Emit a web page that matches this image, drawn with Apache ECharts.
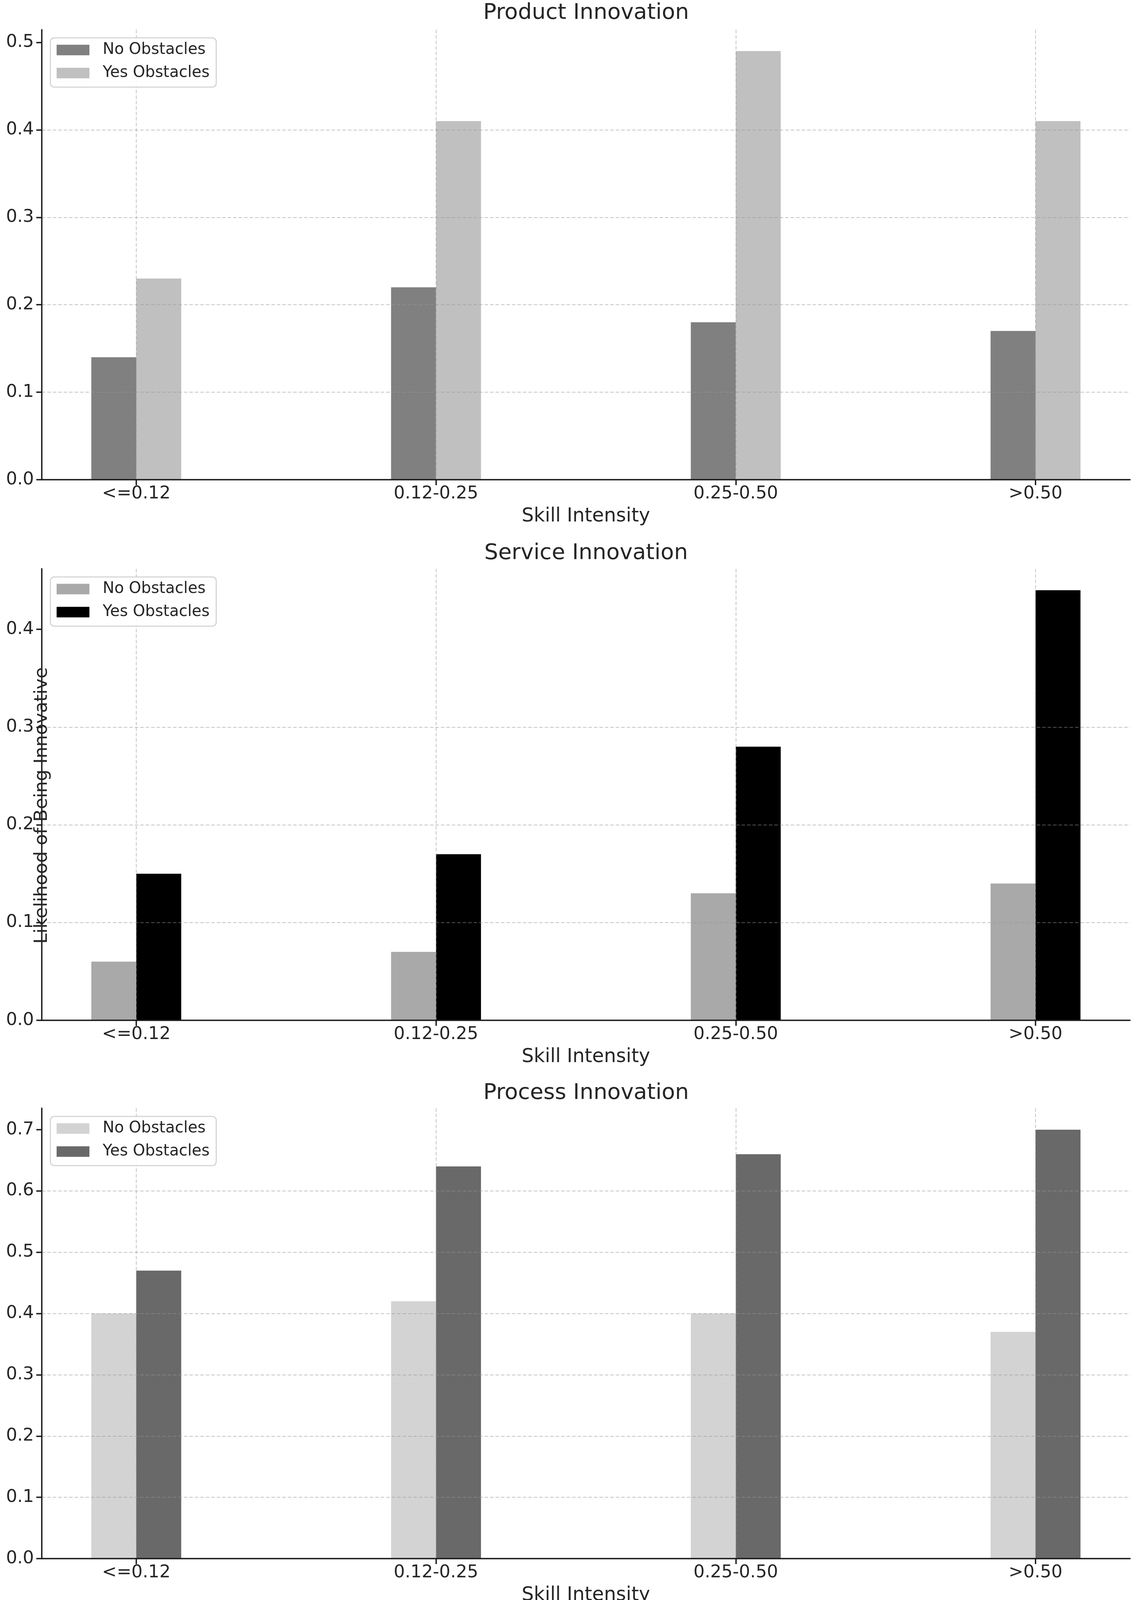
<!DOCTYPE html>
<html><head><meta charset="utf-8">
<script src="https://cdn.jsdelivr.net/npm/echarts@6/dist/echarts.min.js"></script>
<style>html,body{margin:0;padding:0;background:#fff}#c{width:2917px;height:4124px}</style>
</head><body><div id="c"></div>
<script>
// ---- data ----
const categories = ['<=0.12', '0.12-0.25', '0.25-0.50', '>0.50'];
const seriesNames = ['No Obstacles', 'Yes Obstacles'];
const panelTitles = ['Product Innovation', 'Service Innovation', 'Process Innovation'];
const productNo = [0.14, 0.22, 0.18, 0.17];
const productYes = [0.23, 0.41, 0.49, 0.41];
const serviceNo = [0.06, 0.07, 0.13, 0.14];
const serviceYes = [0.15, 0.17, 0.28, 0.44];
const processNo = [0.40, 0.42, 0.40, 0.37];
const processYes = [0.47, 0.64, 0.66, 0.70];
const productTicks = [0.0, 0.1, 0.2, 0.3, 0.4, 0.5];
const serviceTicks = [0.0, 0.1, 0.2, 0.3, 0.4];
const processTicks = [0.0, 0.1, 0.2, 0.3, 0.4, 0.5, 0.6, 0.7];
const xAxisLabel = 'Skill Intensity';
const yAxisLabel = 'Likelihood of Being Innovative';

// ---- styles / layout ----
const FONT = 'DejaVu Sans';
const TXT = '#262626';
const panelColors = [['#808080', '#c0c0c0'], ['#a9a9a9', '#000000'], ['#d3d3d3', '#696969']];
const panelData = [[productNo, productYes], [serviceNo, serviceYes], [processNo, processYes]];
const panelTicks = [productTicks, serviceTicks, processTicks];
const H = 4124;
const tops = [76, 1456, 2837];
const bottoms = [1228, 2612, 3990];
const titleY = [33, 1416, 2798];
const outerLeft = 107, outerRight = 23;
const innerLeft = 349, innerRight = 265;
const plotCenter = 1501;
const gridColor = 'rgba(150,150,150,0.55)';

const option = {
  backgroundColor: '#fff',
  animation: false,
  textStyle: { fontFamily: FONT },
  title: [], legend: [], grid: [], xAxis: [], yAxis: [], series: [],
  graphic: [{
    type: 'text', x: 108, y: 2062, rotation: Math.PI / 2, z: 50,
    style: { text: yAxisLabel, font: '47px "DejaVu Sans"', fill: TXT, align: 'center', verticalAlign: 'middle' }
  }]
};

for (let p = 0; p < 3; p++) {
  const ticks = panelTicks[p];
  const ymax = Math.max(...panelData[p][0], ...panelData[p][1]) * 1.05;
  option.title.push({
    text: panelTitles[p], left: plotCenter, top: titleY[p], textAlign: 'center', textVerticalAlign: 'middle', padding: 0,
    textStyle: { fontFamily: FONT, fontSize: 56, fontWeight: 'normal', color: TXT, lineHeight: 56 }
  });
  // outer grid: spines + y axis
  option.grid.push({ left: outerLeft, right: outerRight, top: tops[p], bottom: H - bottoms[p], containLabel: false });
  // inner grid: categories + bars
  option.grid.push({ left: innerLeft, right: innerRight, top: tops[p], bottom: H - bottoms[p], containLabel: false });
  const go = 2 * p, gi = 2 * p + 1;
  option.xAxis.push({
    type: 'value', gridIndex: go, min: 0, max: 1, z: 4,
    axisLine: { show: true, onZero: false, lineStyle: { color: '#1a1a1a', width: 3.5 } },
    axisTick: { show: false }, axisLabel: { show: false }, splitLine: { show: false }
  });
  option.xAxis.push({
    type: 'category', gridIndex: gi, data: categories, boundaryGap: false, z: 3,
    axisLine: { show: false },
    axisTick: { show: true, length: 14, lineStyle: { color: '#1a1a1a', width: 3.5 } },
    axisLabel: { show: true, color: TXT, fontFamily: FONT, fontSize: 45, lineHeight: 45, margin: 36, verticalAlign: 'middle', interval: 0 },
    splitLine: { show: true, lineStyle: { color: gridColor, width: 2, type: [9, 5] } },
    name: xAxisLabel, nameLocation: 'middle', nameGap: 94,
    nameTextStyle: { color: TXT, fontFamily: FONT, fontSize: 49, lineHeight: 49, verticalAlign: 'middle' }
  });
  option.yAxis.push({
    type: 'value', gridIndex: go, min: 0, max: ymax, interval: 0.1, z: 3,
    axisLine: { show: true, onZero: false, lineStyle: { color: '#1a1a1a', width: 3.5 } },
    axisTick: { show: true, length: 14, lineStyle: { color: '#1a1a1a', width: 3.5 }, customValues: ticks },
    axisLabel: { show: true, color: TXT, fontFamily: FONT, fontSize: 45, margin: 20, customValues: ticks,
      formatter: v => Number(v).toFixed(1) },
    splitLine: { show: true, showMaxLine: false, lineStyle: { color: gridColor, width: 2, type: [9, 5] } }
  });
  option.yAxis.push({
    type: 'value', gridIndex: gi, min: 0, max: ymax, interval: 0.1,
    axisLine: { show: false }, axisTick: { show: false }, axisLabel: { show: false }, splitLine: { show: false }
  });
  for (let s = 0; s < 2; s++) {
    option.series.push({
      type: 'bar', name: seriesNames[s], xAxisIndex: 2 * p + 1, yAxisIndex: 2 * p + 1,
      data: panelData[p][s], barWidth: '15%', barGap: '0%', z: 2,
      itemStyle: { color: panelColors[p][s] }, emphasis: { disabled: true }
    });
  }
  option.legend.push({
    orient: 'vertical', left: 129, top: tops[p] + 21, z: 10,
    data: seriesNames.map((n, s) => ({ name: n, itemStyle: { color: panelColors[p][s] } })),
    icon: 'rect', itemWidth: 84, itemHeight: 27, itemGap: 19,
    padding: [11, 17, 16, 16],
    backgroundColor: 'rgba(255,255,255,0.85)', borderColor: '#cfcfcf', borderWidth: 2.5, borderRadius: 10,
    textStyle: { fontFamily: FONT, fontSize: 40, lineHeight: 40, color: TXT, padding: [0, 0, 0, 29] },
    selectedMode: false
  });
}

const chart = echarts.init(document.getElementById('c'), null, { width: 2917, height: 4124 });
chart.setOption(option);
</script>
</body></html>
